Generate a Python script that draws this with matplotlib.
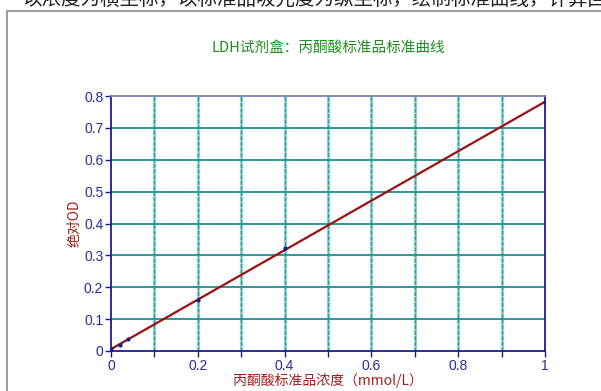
import matplotlib
matplotlib.use("Agg")
import matplotlib.pyplot as plt
from matplotlib.patches import Rectangle

plt.rcParams['font.family'] = ['Noto Sans CJK SC', 'DejaVu Sans']

# data
conc = [0.0, 0.02, 0.04, 0.2, 0.4, 1.0]
od = [0.005, 0.019, 0.037, 0.16, 0.324, 0.78]
fit_x = [0.0, 1.0]
fit_y = [0.006, 0.782]
xticks = [0, 0.2, 0.4, 0.6, 0.8, 1]
xticklabels = ['0', '0.2', '0.4', '0.6', '0.8', '1']
yticks = [0, 0.1, 0.2, 0.3, 0.4, 0.5, 0.6, 0.7, 0.8]
yticklabels = ['0', '0.1', '0.2', '0.3', '0.4', '0.5', '0.6', '0.7', '0.8']
grid_x = [0.1, 0.2, 0.3, 0.4, 0.5, 0.6, 0.7, 0.8, 0.9]
grid_y = [0.1, 0.2, 0.3, 0.4, 0.5, 0.6, 0.7]
title = 'LDH试剂盒：丙酮酸标准品标准曲线'
xlabel = '丙酮酸标准品浓度（mmol/L）'
ylabel = '绝对OD'
top_text = '以浓度为横坐标，以标准品吸光度为纵坐标，绘制标准曲线，计算回归方程'

W, H = 601, 391
fig = plt.figure(figsize=(W / 100, H / 100), dpi=100)
fig.patch.set_facecolor('white')

# outer frame
fig.patches.append(Rectangle((7 / W, -0.05), 1.0, 1 - 10.5 / H + 0.05,
                             transform=fig.transFigure, fill=False,
                             edgecolor='#8a8a8a', linewidth=1.2))
# cropped text at top (only its lower part is visible)
fig.text(22 / W, 1 - 4.5 / H, top_text, ha='left', va='baseline',
         fontsize=14, color='#222222')

ax = fig.add_axes([111 / W, 1 - 351 / H, (545 - 111) / W, (351 - 96) / H])
ax.set_xlim(0, 1)
ax.set_ylim(0, 0.8)

for gx in grid_x:
    ax.axvline(gx, color='#a6d8d8', linewidth=2.4, zorder=1)
    ax.axvline(gx, color='#2a9c9c', linewidth=1.0, linestyle=(0, (3, 1)), zorder=1.1)
for gy in grid_y:
    ax.axhline(gy, color='#1f8f8f', linewidth=1.3, zorder=1)

ax.plot(fit_x, fit_y, color='#9b1010', linewidth=1.6, zorder=3)
ax.scatter(conc, od, s=4, color='#1a1a8a', zorder=4)

tick_color = '#2b2b9b'
ax.set_xticks(xticks)
ax.set_xticklabels(xticklabels)
ax.set_xticks(grid_x, minor=True)
ax.set_yticks(yticks)
ax.set_yticklabels(yticklabels)
ax.tick_params(axis='both', which='both', colors='#1a1a8a', labelcolor=tick_color,
               labelsize=10, length=4, width=1, direction='out', pad=1.5)
for lab in ax.get_xticklabels() + ax.get_yticklabels():
    lab.set_family(['Liberation Sans', 'DejaVu Sans'])

for s in ['left', 'bottom', 'right']:
    ax.spines[s].set_color('#1a1a9a')
    ax.spines[s].set_linewidth(1.3)
ax.spines['top'].set_color('#8080c0')
ax.spines['top'].set_linewidth(1.3)

ax.set_title(title, color='#1e8c1e', fontsize=10.5, pad=32)
ax.set_xlabel(xlabel, color='#a02020', fontsize=10, labelpad=0)
ax.set_ylabel(ylabel, color='#a02020', fontsize=10, labelpad=2)

fig.savefig('out.png', dpi=100, facecolor='white')
